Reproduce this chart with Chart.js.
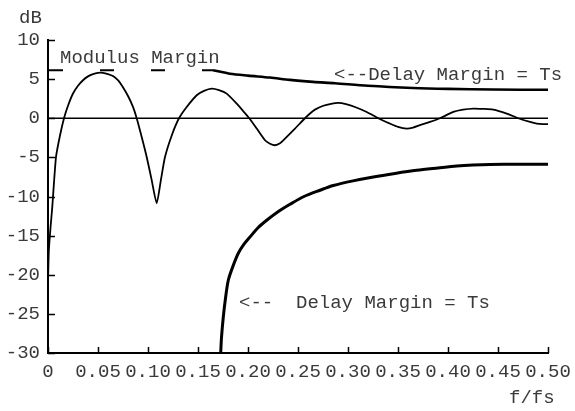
<!DOCTYPE html>
<html>
<head>
<meta charset="utf-8">
<script src="https://cdn.jsdelivr.net/npm/chart.js@4/dist/chart.umd.min.js"></script>
<style>
html,body{margin:0;padding:0;background:#fff;}
#wrap{width:575px;height:411px;position:relative;}
</style>
</head>
<body>
<div id="wrap"><canvas id="c"></canvas></div>
<script>
// ---- data ----
const xTickValues = [0,0.05,0.10,0.15,0.20,0.25,0.30,0.35,0.40,0.45,0.50];
const yTickValues = [10,5,0,-5,-10,-15,-20,-25,-30];

// sensitivity function |S| (dB)
const sensFreq = [0,0.0008,0.0025,0.0043,0.008,0.012,0.016,0.020,0.025,0.030,0.035,0.040,0.045,0.050,0.055,0.060,0.065,0.0704,0.0745,0.0804,0.085,0.0887,0.0937,0.0987,0.1037,0.1087,0.113,0.117,0.124,0.131,0.1387,0.1487,0.156,0.1637,0.171,0.1787,0.1887,0.195,0.2013,0.2087,0.217,0.222,0.227,0.232,0.237,0.247,0.257,0.262,0.267,0.2753,0.283,0.2903,0.298,0.307,0.3187,0.3303,0.342,0.350,0.3587,0.365,0.372,0.382,0.392,0.4053,0.415,0.4253,0.435,0.4453,0.4587,0.4703,0.482,0.4887,0.495,0.50];
const sensDb   = [-21,-17,-14,-11.3,-4.95,-2.2,0,1.6,3.16,4.15,4.86,5.35,5.65,5.8,5.8,5.65,5.4,4.8,4.05,2.75,1.45,0,-2.4,-4.95,-7.9,-10.86,-7.8,-4.95,-2.1,0,1.44,2.94,3.5,3.79,3.6,3.15,1.88,0.95,0,-1.32,-2.81,-3.25,-3.45,-3.2,-2.6,-1.32,0,0.6,1.1,1.6,1.85,1.96,1.8,1.44,0.8,0,-0.68,-1.1,-1.32,-1.2,-0.89,-0.47,0,0.81,1.1,1.24,1.2,1.11,0.6,0,-0.47,-0.68,-0.75,-0.75];

// upper delay-margin template (dB)
const upperFreq = [0.165,0.17,0.182,0.20,0.222,0.242,0.265,0.287,0.32,0.365,0.40,0.445,0.50];
const upperDb   = [6.13,6.0,5.69,5.45,5.2,4.9,4.65,4.47,4.15,3.87,3.75,3.67,3.64];

// modulus margin (dashed) level
const modFreq = [0.001,0.165];
const modDb   = [6.13,6.13];

// lower delay-margin template (dB)
const lowerFreq = [0.1727,0.1735,0.1753,0.1775,0.1803,0.185,0.1903,0.196,0.202,0.21,0.2187,0.23,0.242,0.256,0.272,0.2853,0.305,0.3253,0.347,0.3687,0.39,0.4087,0.425,0.442,0.47,0.50];
const lowerDb   = [-30,-28,-25.4,-23,-20.7,-18.9,-17.25,-16.1,-15.17,-14.0,-13.04,-11.95,-11.0,-10.0,-9.2,-8.6,-8.0,-7.5,-7.05,-6.65,-6.35,-6.1,-5.97,-5.9,-5.88,-5.88];

// zero line
const zeroFreq = [0,0.5];
const zeroDb = [0,0];

const pts = (xs, ys) => xs.map((x,i)=>({x:x,y:ys[i]}));

const FONT = '"Liberation Mono","Courier New",monospace';
const TXT = '#3a3a3a';

const overlay = {
  id:'overlay',
  afterDraw(chart){
    const ctx = chart.ctx, xs = chart.scales.x, ys = chart.scales.y;
    const a = chart.chartArea;
    ctx.save();
    ctx.strokeStyle = '#000';
    ctx.lineWidth = 1.5;
    ctx.beginPath();
    xTickValues.forEach(v=>{
      const px = Math.round(xs.getPixelForValue(v))+0.5;
      ctx.moveTo(px, a.bottom); ctx.lineTo(px, a.bottom-6);
    });
    yTickValues.forEach(v=>{
      const py = Math.round(ys.getPixelForValue(v))+0.5;
      ctx.moveTo(a.left, py); ctx.lineTo(a.left+7, py);
    });
    ctx.stroke();
    ctx.fillStyle = TXT;
    ctx.font = '19px ' + FONT;
    ctx.textBaseline = 'middle';
    ctx.textAlign = 'left';
    ctx.fillText('dB', 19, 18);
    ctx.fillText('f/fs', 509, 398);
    ctx.fillText('Modulus Margin', 60, 58);
    ctx.fillText('<--Delay Margin = Ts', 334, 75);
    ctx.fillText('<--  Delay Margin = Ts', 239, 303);
    ctx.restore();
  }
};

new Chart(document.getElementById('c'), {
  type:'line',
  data:{
    datasets:[
      {data:pts(zeroFreq,zeroDb), borderColor:'#000', borderWidth:1.3},
      {data:pts(modFreq,modDb), borderColor:'#000', borderWidth:2, borderDash:[14,37]},
      {data:pts(upperFreq,upperDb), borderColor:'#000', borderWidth:2.6, tension:0.3},
      {data:pts(lowerFreq,lowerDb), borderColor:'#000', borderWidth:3, tension:0.3},
      {data:pts(sensFreq,sensDb), borderColor:'#000', borderWidth:1.8, tension:0.2}
    ]
  },
  options:{
    responsive:true, maintainAspectRatio:false, animation:false,
    devicePixelRatio:1,
    layout:{padding:{left:0,top:40,right:27,bottom:0}},
    elements:{point:{radius:0}, line:{tension:0}},
    plugins:{legend:{display:false}, tooltip:{enabled:false}},
    scales:{
      x:{type:'linear', min:0, max:0.5,
         afterFit(s){s.height=58; s.paddingLeft=0; s.paddingRight=0;},
         afterBuildTicks(s){s.ticks = xTickValues.map(v=>({value:v}));},
         ticks:{padding:8, color:TXT, font:{family:FONT,size:19}, maxRotation:0, autoSkip:false,
                callback:v=> v===0 ? '0' : v.toFixed(2)},
         grid:{display:false, drawTicks:false},
         border:{display:true, color:'#000', width:2}},
      y:{type:'linear', min:-30, max:10,
         afterFit(s){s.width=48; s.paddingTop=0; s.paddingBottom=0;},
         afterBuildTicks(s){s.ticks = yTickValues.map(v=>({value:v}));},
         ticks:{padding:8, color:TXT, font:{family:FONT,size:19}, autoSkip:false,
                callback:v=> String(v)},
         grid:{display:false, drawTicks:false},
         border:{display:true, color:'#000', width:2}}
    }
  },
  plugins:[overlay]
});
</script>
</body>
</html>
